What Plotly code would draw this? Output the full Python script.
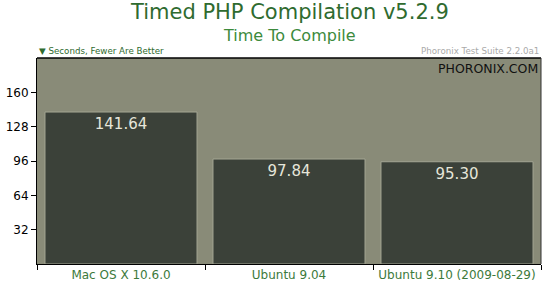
import plotly.graph_objects as go

categories = ["Mac OS X 10.6.0", "Ubuntu 9.04", "Ubuntu 9.10 (2009-08-29)"]
values = [141.64, 97.84, 95.30]
value_labels = ["141.64", "97.84", "95.30"]
y_ticks = [32, 64, 96, 128, 160]

green = "#3c7a3c"
fig = go.Figure()
fig.add_trace(go.Bar(
    x=categories, y=values,
    text=value_labels, textposition="inside", insidetextanchor="end",
    textfont=dict(family="DejaVu Sans", size=15, color="#e6e6da"),
    marker=dict(color="#3b4139", line=dict(color="#a4a694", width=1)),
    width=0.905, hoverinfo="skip",
))
fig.update_layout(
    width=550, height=284,
    margin=dict(l=37, r=9, t=58, b=20, autoexpand=False),
    paper_bgcolor="white", plot_bgcolor="#898b78",
    showlegend=False,
    font=dict(family="DejaVu Sans"),
)
fig.update_xaxes(
    type="category", tickson="boundaries", ticks="outside", ticklen=5,
    tickcolor="black", showline=True, linecolor="black", linewidth=1,
    mirror=False, showgrid=False, automargin=False,
    tickfont=dict(family="DejaVu Sans", size=12, color=green),
)
fig.update_yaxes(
    range=[0, 192], tickvals=y_ticks, ticks="outside", ticklen=5,
    tickcolor="black", showline=True, linecolor="black", linewidth=1,
    showgrid=False, zeroline=False, automargin=False,
    tickfont=dict(family="DejaVu Sans", size=12, color="black"),
)
# top and right border lines
fig.add_shape(type="line", xref="paper", yref="paper", x0=0, x1=1, y0=1, y1=1,
              line=dict(color="black", width=1.5))
fig.add_shape(type="line", xref="paper", yref="paper", x0=1, x1=1, y0=0, y1=1,
              line=dict(color="#333333", width=1))
fig.add_annotation(text="Timed PHP Compilation v5.2.9", xref="paper", yref="paper",
                   x=0.5, y=1, yshift=32, showarrow=False, yanchor="bottom",
                   xanchor="center", font=dict(family="DejaVu Sans", size=21, color="#2f6b2f"))
fig.add_annotation(text="Time To Compile", xref="paper", yref="paper",
                   x=0.5, y=1, yshift=11, showarrow=False, yanchor="bottom",
                   xanchor="center", font=dict(family="DejaVu Sans", size=16, color="#3c8a3c"))
fig.add_annotation(text="▼ Seconds, Fewer Are Better", xref="paper", yref="paper",
                   x=0, y=1, yshift=0, showarrow=False, yanchor="bottom",
                   xanchor="left", font=dict(family="DejaVu Sans", size=8.7, color="#2f6b2f"))
fig.add_annotation(text="Phoronix Test Suite 2.2.0a1", xref="paper", yref="paper",
                   x=1, y=1, yshift=0, showarrow=False, yanchor="bottom",
                   xanchor="right", font=dict(family="DejaVu Sans", size=8.7, color="#aaaaaa"))
fig.add_annotation(text="PHORONIX.COM", xref="paper", yref="paper",
                   x=1, y=1, xshift=-1, yshift=-1, showarrow=False, yanchor="top",
                   xanchor="right", font=dict(family="DejaVu Sans", size=12.5, color="#111111"))
fig.write_html("out.html")
